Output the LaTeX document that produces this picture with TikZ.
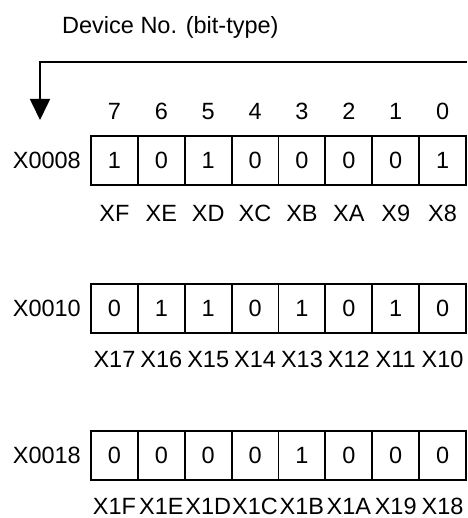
\documentclass[tikz,border=0pt]{standalone}
\usepackage{fontspec}
\setmainfont{Liberation Sans}
\usetikzlibrary{arrows.meta}
\begin{document}
\begin{tikzpicture}[x=1pt,y=-1pt,
  every node/.style={font=\fontsize{23.5}{27}\selectfont, inner sep=0pt},
  cell/.style={draw, line width=1.8pt, minimum width=46.875pt, minimum height=49pt},
  bitlbl/.style={anchor=base},
  rowlbl/.style={anchor=east},
  conn/.style={line width=1.6pt}]
\useasboundingbox (0,0) rectangle (467,518);
% title
\node[anchor=base west] (title) at (62,34) {Device No. (bit-type)};
% arrow
\coordinate (src) at (467,62);
\coordinate (bend) at (40,62);
\coordinate (tip) at (40,120);
\draw[conn, -{Triangle[length=21pt,width=20pt]}] (src) -- (bend) -- (tip);
% bit numbers
\foreach \n [count=\i from 0] in {7,6,5,4,3,2,1,0}
  \node[bitlbl] (n\i) at ({114.44+46.875*\i},120) {\n};
% row 1
\node[rowlbl] (r1) at (81,160.5) {X0008};
\foreach \b [count=\i from 0] in {1,0,1,0,0,0,0,1}
  \node[cell] (a\i) at ({114.44+46.875*\i},160.5) {\b};
\foreach \t [count=\i from 0] in {XF,XE,XD,XC,XB,XA,X9,X8}
  \node[bitlbl] (la\i) at ({114.44+46.875*\i},221.5) {\t};
% row 2
\node[rowlbl] (r2) at (81,308.5) {X0010};
\foreach \b [count=\i from 0] in {0,1,1,0,1,0,1,0}
  \node[cell] (b\i) at ({114.44+46.875*\i},308.5) {\b};
\foreach \t [count=\i from 0] in {X17,X16,X15,X14,X13,X12,X11,X10}
  \node[bitlbl] (lb\i) at ({114.44+46.875*\i},367) {\t};
% row 3
\node[rowlbl] (r3) at (81,455.5) {X0018};
\foreach \b [count=\i from 0] in {0,0,0,0,1,0,0,0}
  \node[cell] (c\i) at ({114.44+46.875*\i},455.5) {\b};
\foreach \t [count=\i from 0] in {X1F,X1E,X1D,X1C,X1B,X1A,X19,X18}
  \node[bitlbl] (lc\i) at ({114.44+46.875*\i},514) {\t};
\end{tikzpicture}
\end{document}
